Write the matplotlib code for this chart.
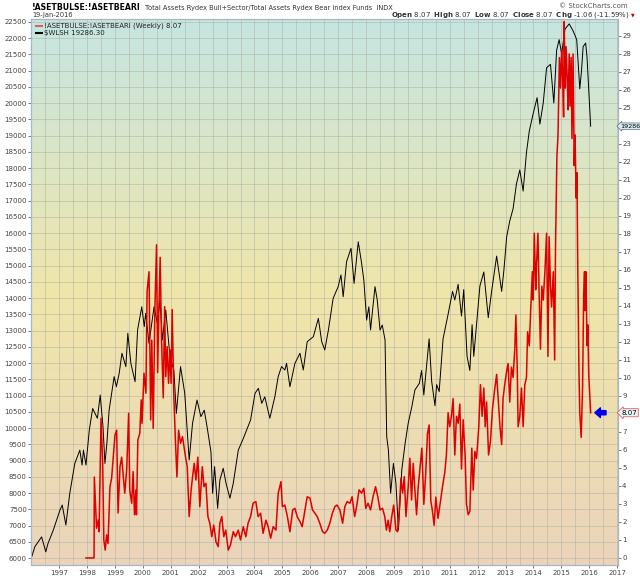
import numpy as np
import matplotlib
matplotlib.use("Agg")
import matplotlib.pyplot as plt
from matplotlib.colors import LinearSegmentedColormap
from matplotlib.ticker import MultipleLocator
import matplotlib.transforms as mtransforms

# $WLSH weekly close (year fraction, value)
wlsh_t = [1996.02, 1996.13, 1996.37, 1996.52, 1996.60, 1996.79, 1997.03, 1997.11, 1997.24, 1997.38,
          1997.56, 1997.74, 1997.82, 1997.87, 1997.96, 1998.08, 1998.20, 1998.37, 1998.47, 1998.57,
          1998.64, 1998.71, 1998.79, 1998.97, 1999.05, 1999.15, 1999.25, 1999.39, 1999.46, 1999.57,
          1999.72, 1999.81, 1999.96, 2000.05, 2000.10, 2000.22, 2000.40, 2000.52, 2000.61, 2000.70,
          2000.82, 2000.97, 2001.11, 2001.20, 2001.35, 2001.50, 2001.66, 2001.78, 2001.94, 2002.08,
          2002.20, 2002.30, 2002.44, 2002.50, 2002.57, 2002.68, 2002.76, 2002.88, 2002.98, 2003.12,
          2003.24, 2003.42, 2003.60, 2003.72, 2003.86, 2004.02, 2004.14, 2004.26, 2004.37, 2004.55,
          2004.73, 2004.85, 2004.97, 2005.09, 2005.15, 2005.27, 2005.45, 2005.63, 2005.75, 2005.89,
          2006.11, 2006.29, 2006.41, 2006.52, 2006.65, 2006.82, 2007.00, 2007.10, 2007.18, 2007.30,
          2007.46, 2007.57, 2007.72, 2007.84, 2007.92, 2008.02, 2008.10, 2008.16, 2008.32, 2008.40,
          2008.50, 2008.58, 2008.68, 2008.74, 2008.80, 2008.88, 2008.98, 2009.07, 2009.16, 2009.28,
          2009.40, 2009.51, 2009.64, 2009.75, 2009.91, 2009.99, 2010.07, 2010.26, 2010.35, 2010.47,
          2010.53, 2010.62, 2010.76, 2010.94, 2011.10, 2011.18, 2011.30, 2011.42, 2011.50, 2011.62,
          2011.72, 2011.80, 2011.86, 2011.96, 2012.08, 2012.22, 2012.38, 2012.50, 2012.68, 2012.86,
          2012.94, 2013.04, 2013.15, 2013.27, 2013.39, 2013.51, 2013.63, 2013.75, 2013.85, 2013.99,
          2014.13, 2014.23, 2014.35, 2014.47, 2014.61, 2014.73, 2014.83, 2014.92, 2015.01, 2015.13,
          2015.28, 2015.42, 2015.55, 2015.66, 2015.72, 2015.78, 2015.87, 2015.92, 2016.05]
wlsh_v = [6050, 6350, 6650, 6190, 6450, 6860, 7480, 7630, 7015, 7990,
          8910, 9320, 8860, 9320, 8860, 9940, 10600, 10300, 11015, 10040,
          8910, 9530, 10550, 11580, 11270, 11680, 12300, 11890, 12915, 11990,
          11425, 13015, 13730, 13120, 13530, 12605, 13730, 13220, 13940, 12710,
          13630, 12195, 11785, 10450, 11890, 11070, 9015, 10145, 10860, 10350,
          10550, 10040, 9270, 7990, 8810, 7530, 8400, 8760, 8300, 7840,
          8300, 9320, 9680, 9940, 10245, 11070, 11220, 10760, 10960, 10300,
          10960, 11580, 11890, 11785, 11990, 11270, 11990, 12300, 11785, 12655,
          12810, 13375, 12655, 12400, 13015, 13990, 14350, 14710, 14040, 15115,
          15530, 14450, 15730, 15070, 14550, 13320, 13730, 13015, 14350, 13940,
          13015, 13170, 12710, 9730, 9320, 7990, 8910, 8300, 6860, 8710,
          9530, 10145, 10655, 11170, 11375, 11770, 11015, 12745, 11445, 10685,
          11335, 11120, 12745, 13500, 14205, 13940, 14420, 13445, 14260, 12205,
          11770, 13180, 12205, 13180, 14370, 14800, 13395, 14205, 15290, 14205,
          14855, 15885, 16370, 16750, 17510, 17940, 17290, 18485, 19135, 19675,
          20165, 19350, 20000, 21085, 21190, 20000, 21625, 21950, 21515, 22275,
          22435, 22220, 21950, 20435, 20975, 21735, 21845, 21410, 19286.30]

# !ASETBULSE:!ASETBEARI weekly ratio
ratio_t = [1997.96, 1998.25, 1998.26, 1998.34, 1998.40, 1998.43, 1998.50, 1998.56, 1998.60, 1998.65,
           1998.70, 1998.75, 1998.82, 1998.88, 1998.94, 1999.00, 1999.06, 1999.11, 1999.18, 1999.24,
           1999.29, 1999.35, 1999.42, 1999.49, 1999.53, 1999.60, 1999.65, 1999.70, 1999.75, 1999.77,
           1999.82, 1999.89, 1999.94, 1999.97, 2000.04, 2000.11, 2000.15, 2000.22, 2000.28, 2000.32,
           2000.37, 2000.43, 2000.49, 2000.53, 2000.57, 2000.62, 2000.67, 2000.73, 2000.78, 2000.82,
           2000.87, 2000.92, 2000.97, 2001.01, 2001.05, 2001.11, 2001.17, 2001.22, 2001.28, 2001.35,
           2001.42, 2001.48, 2001.53, 2001.59, 2001.66, 2001.73, 2001.78, 2001.84, 2001.90, 2001.97,
           2002.04, 2002.13, 2002.19, 2002.26, 2002.33, 2002.40, 2002.47, 2002.54, 2002.62, 2002.70,
           2002.76, 2002.83, 2002.90, 2002.97, 2003.06, 2003.14, 2003.24, 2003.32, 2003.42, 2003.50,
           2003.60, 2003.69, 2003.77, 2003.86, 2003.95, 2004.05, 2004.13, 2004.22, 2004.31, 2004.41,
           2004.49, 2004.58, 2004.67, 2004.77, 2004.85, 2004.95, 2005.00, 2005.09, 2005.18, 2005.27,
           2005.37, 2005.45, 2005.53, 2005.63, 2005.71, 2005.81, 2005.89, 2005.99, 2006.08, 2006.17,
           2006.25, 2006.34, 2006.44, 2006.52, 2006.61, 2006.70, 2006.79, 2006.88, 2006.96, 2007.06,
           2007.16, 2007.24, 2007.32, 2007.42, 2007.50, 2007.59, 2007.66, 2007.75, 2007.84, 2007.92,
           2007.99, 2008.07, 2008.16, 2008.25, 2008.34, 2008.42, 2008.50, 2008.59, 2008.67, 2008.73,
           2008.79, 2008.85, 2008.92, 2008.99, 2009.07, 2009.13, 2009.19, 2009.25, 2009.31, 2009.37,
           2009.43, 2009.51, 2009.57, 2009.63, 2009.69, 2009.75, 2009.81, 2009.87, 2009.93, 2010.00,
           2010.07, 2010.14, 2010.20, 2010.26, 2010.32, 2010.38, 2010.44, 2010.50, 2010.58, 2010.67,
           2010.74, 2010.82, 2010.88, 2010.94, 2011.00, 2011.06, 2011.12, 2011.18, 2011.24, 2011.30,
           2011.36, 2011.42, 2011.48, 2011.55, 2011.60, 2011.66, 2011.72, 2011.79, 2011.84, 2011.90,
           2011.96, 2012.04, 2012.10, 2012.16, 2012.22, 2012.27, 2012.32, 2012.39, 2012.46, 2012.53,
           2012.60, 2012.68, 2012.75, 2012.80, 2012.86, 2012.91, 2012.97, 2013.04, 2013.09, 2013.15,
           2013.21, 2013.27, 2013.33, 2013.37, 2013.42, 2013.45, 2013.51, 2013.57, 2013.63, 2013.69,
           2013.75, 2013.79, 2013.85, 2013.90, 2013.96, 2013.99, 2014.03, 2014.08, 2014.11, 2014.16,
           2014.20, 2014.25, 2014.30, 2014.35, 2014.41, 2014.47, 2014.52, 2014.56, 2014.61, 2014.65,
           2014.71, 2014.76, 2014.79, 2014.84, 2014.88, 2014.93, 2014.97, 2015.01, 2015.04, 2015.08,
           2015.10, 2015.14, 2015.17, 2015.21, 2015.24, 2015.28, 2015.31, 2015.35, 2015.38, 2015.42,
           2015.46, 2015.49, 2015.53, 2015.56, 2015.58, 2015.63, 2015.66, 2015.71, 2015.76, 2015.80,
           2015.83, 2015.85, 2015.88, 2015.92, 2015.95, 2015.98, 2016.05]
ratio_v = [0.0, 0.0, 4.5, 1.65, 2.1, 1.46, 7.76, 5.26, 1.0, 0.44,
           1.28, 0.8, 3.96, 4.43, 5.6, 6.83, 7.1, 2.5, 5.07, 5.6,
           4.7, 3.6, 4.9, 8.04, 3.78, 3.04, 4.8, 2.4, 3.78, 2.4,
           6.56, 6.93, 8.78, 7.48, 10.26, 9.15, 14.8, 15.9, 7.67, 12.1,
           7.2, 13.8, 17.4, 10.3, 13.6, 16.7, 12.1, 8.9, 13.96, 10.07,
           11.74, 9.7, 11.56, 9.7, 13.8, 8.96, 6.37, 4.5, 7.1, 6.37,
           6.74, 6.1, 5.6, 5.07, 2.3, 3.78, 4.5, 5.26, 4.33, 5.6,
           2.85, 5.07, 3.96, 4.15, 2.3, 1.93, 1.18, 1.83, 0.9, 0.63,
           1.93, 2.3, 1.18, 1.55, 0.44, 0.72, 1.46, 1.18, 1.55, 1.0,
           1.74, 1.18, 1.93, 2.3, 3.04, 3.13, 2.3, 2.48, 1.37, 2.1,
           1.74, 1.1, 1.74, 1.55, 3.6, 4.24, 2.85, 2.94, 2.3, 1.46,
           2.67, 2.76, 2.3, 2.02, 1.74, 2.67, 3.4, 3.32, 2.67, 2.48,
           2.3, 1.93, 1.46, 1.37, 1.55, 1.93, 2.48, 2.85, 2.94, 2.67,
           1.93, 2.85, 3.13, 3.04, 3.4, 2.3, 2.85, 3.78, 3.6, 3.87,
           2.76, 3.04, 2.67, 3.4, 3.96, 3.4, 2.67, 2.76, 2.3, 1.55,
           2.1, 1.46, 2.3, 2.94, 1.55, 1.46, 2.67, 4.43, 3.6, 4.52,
           2.3, 3.96, 5.54, 3.22, 5.26, 3.78, 2.4, 3.96, 4.94, 6.1,
           2.98, 4.74, 6.9, 7.39, 3.18, 2.6, 1.81, 3.38, 2.2, 3.18,
           3.96, 4.74, 5.72, 8.07, 7.29, 7.87, 8.85, 5.72, 7.87, 7.48,
           8.55, 4.94, 7.68, 5.72, 2.98, 2.4, 2.6, 6.1, 3.77, 5.92,
           5.53, 7.29, 9.63, 7.87, 9.44, 7.29, 8.66, 5.72, 6.5, 8.27,
           9.24, 10.2, 8.46, 7.29, 6.3, 8.85, 9.63, 10.4, 10.8, 8.66,
           10.6, 10.03, 11.6, 13.5, 10.4, 7.29, 7.87, 9.44, 7.29, 9.63,
           10.03, 12.57, 11.78, 13.74, 15.9, 14.33, 18.04, 14.9, 16.3, 18.04,
           14.9, 11.6, 15.1, 14.33, 15.9, 18.04, 11.2, 17.85, 15.1, 13.94,
           15.9, 11.0, 17.26, 22.3, 23.5, 27.8, 26.1, 28.2, 27.0, 24.5,
           29.8, 26.1, 28.4, 26.65, 24.9, 28.0, 25.1, 27.8, 23.3, 28.0,
           21.8, 23.5, 20.0, 21.4, 17.3, 10.4, 8.07, 6.7, 9.44, 14.7,
           15.9, 13.74, 15.9, 11.8, 12.95, 10.2, 8.07]

year_labels = list(range(1997, 2018))
left_ticks = list(range(6000, 23000, 500))
right_ticks = list(range(0, 30))

fig = plt.figure(figsize=(6.4, 5.76), dpi=100)
fig.patch.set_facecolor("white")
ax = fig.add_axes([31 / 640, 1 - 565 / 576, 587 / 640, 546 / 576])
ax2 = ax.twinx()

# background gradient
cmap = LinearSegmentedColormap.from_list(
    "bg", [(0.0, "#ebd4bb"), (0.5, "#f0e6aa"), (1.0, "#c6e5e2")])
grad = np.linspace(0, 1, 256).reshape(-1, 1)
ax.imshow(grad, extent=[0, 1, 0, 1], transform=ax.transAxes, origin="lower",
          aspect="auto", cmap=cmap, zorder=0)

ax.set_xlim(1995.99, 2017.03)
ax.set_ylim(5785, 22585)
ax2.set_ylim(-0.39, 29.94)

ax.set_xticks(year_labels)
ax.set_xticklabels([str(y) for y in year_labels])
ax.xaxis.set_minor_locator(MultipleLocator(0.5))
ax.set_yticks(left_ticks)
ax2.set_yticks(right_ticks)
# the last-value boxes sit on top of the 24 and 8 labels
ax2.set_yticklabels(["" if v in (8, 24) else str(v) for v in right_ticks])

gc = "#aeb2a2"
ax.grid(True, which="major", axis="both", color=gc, lw=0.5, alpha=0.75, zorder=1)
ax.grid(True, which="minor", axis="x", color=gc, lw=0.5, alpha=0.75, zorder=1)

for a in (ax, ax2):
    a.tick_params(labelsize=5, colors="#444444", length=2, width=0.5)
    a.tick_params(which="minor", length=0)
    for s in a.spines.values():
        s.set_color("#a6b6c6")
        s.set_linewidth(0.8)
ax.tick_params(axis="x", pad=1.5)
ax.tick_params(axis="y", pad=1)
ax2.tick_params(axis="y", pad=1)

ax.plot(wlsh_t, wlsh_v, color="black", lw=0.7, zorder=3)
ax2.plot(ratio_t, ratio_v, color="#e00000", lw=1.1, zorder=3)

# value markers on the right
wl_right = (wlsh_v[-1] - 5785) / (22585 - 5785) * (29.94 + 0.39) - 0.39
tr2 = mtransforms.blended_transform_factory(ax2.transAxes, ax2.transData)
ax2.text(1.004, wl_right, "19286", transform=tr2, fontsize=4.6, va="center", ha="left",
         color="black", bbox=dict(boxstyle="larrow,pad=0.12", fc="#d8ecf4", ec="#5a6a7a", lw=0.5),
         zorder=6, clip_on=False)
ax2.text(1.006, ratio_v[-1], "8.07", transform=tr2, fontsize=5, va="center", ha="left",
         color="black", bbox=dict(boxstyle="larrow,pad=0.15", fc="#e8f4f8", ec="#e06060", lw=0.6),
         zorder=6, clip_on=False)
ax2.annotate("", xy=(2016.2, ratio_v[-1]), xytext=(2016.6, ratio_v[-1]),
             arrowprops=dict(facecolor="#0000ee", edgecolor="#0000ee", width=3,
                             headwidth=7, headlength=4))

# legend in the plot
ax.plot([0.008, 0.018], [0.988, 0.988], transform=ax.transAxes, color="#e06060", lw=1.5, zorder=5)
ax.text(0.022, 0.988, "!ASETBULSE:!ASETBEARI (Weekly) 8.07", transform=ax.transAxes,
        fontsize=5, va="center", color="#222222", zorder=5)
ax.plot([0.008, 0.018], [0.974, 0.974], transform=ax.transAxes, color="black", lw=1.5, zorder=5)
ax.text(0.022, 0.974, "$WLSH 19286.30", transform=ax.transAxes,
        fontsize=5, va="center", color="#222222", zorder=5)

# header
title = fig.text(32 / 640, 1 - 8 / 576, "!ASETBULSE:!ASETBEARI", fontsize=6.2, fontweight="bold",
                 fontstretch="condensed", va="center", ha="left", family="DejaVu Sans")
fig.texts[-1].axes = None
plt.annotate("Total Assets Rydex Bull+Sector/Total Assets Rydex Bear Index Funds  INDX",
             xy=(1, 0.5), xycoords=title, xytext=(3, 0), textcoords="offset points",
             fontsize=4.8, va="center", ha="left", color="#333333", annotation_clip=False)
fig.text(32 / 640, 1 - 15 / 576, "19-Jan-2016", fontsize=4.8, va="center", ha="left", color="#333333")
fig.text(628 / 640, 1 - 6 / 576, "\u00a9 StockCharts.com", fontsize=5, va="center", ha="right", color="#555555")
fig.text(630 / 640, 1 - 15 / 576,
         r"$\bf{Open}$ 8.07  $\bf{High}$ 8.07  $\bf{Low}$ 8.07  $\bf{Close}$ 8.07  $\bf{Chg}$ -1.06 (-11.59%) ",
         fontsize=5, va="center", ha="right", color="#333333")
fig.text(631 / 640, 1 - 15 / 576, "\u25bc", fontsize=3.5, va="center", ha="left", color="#cc0000")

fig.savefig("out.png", dpi=100)
